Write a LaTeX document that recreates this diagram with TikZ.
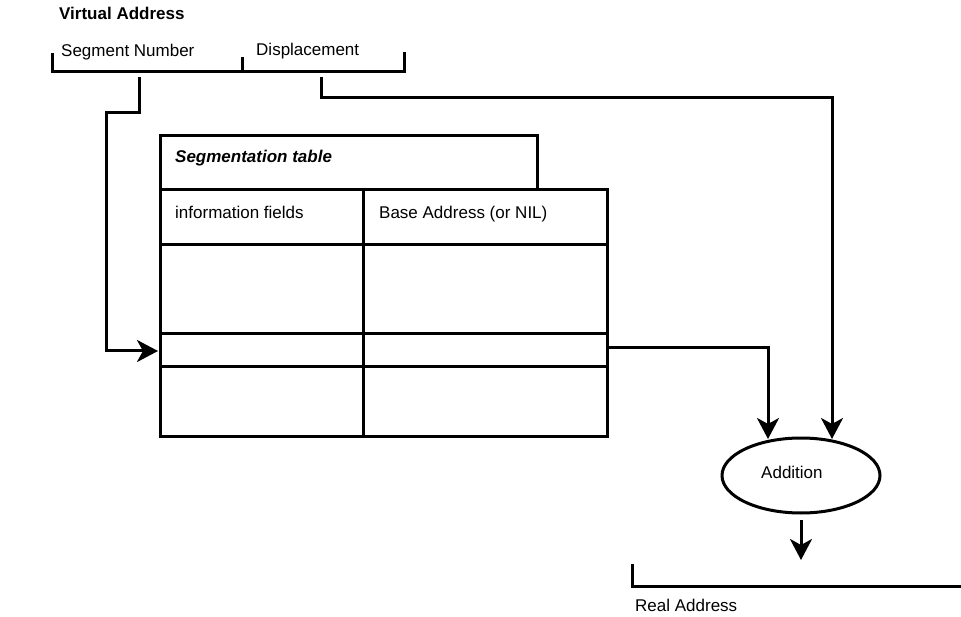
\documentclass[tikz,border=0pt]{standalone}
\usepackage{fontspec}
\setmainfont{Liberation Sans}
\usetikzlibrary{arrows.meta,shapes.geometric}
\begin{document}
\begin{tikzpicture}[x=1pt,y=-1pt,
  ln/.style={line width=3pt},
  arr/.style={ln,-{Stealth[length=21pt,width=22pt,inset=6pt]}},
  txt/.style={anchor=base west,inner sep=0pt,font=\fontsize{17}{20}\selectfont},
  box/.style={draw,ln,rectangle,anchor=north west,inner sep=0pt}]
\useasboundingbox (0,0) rectangle (961,617);
% virtual address
\node[txt,font=\fontsize{17}{20}\selectfont\bfseries] (va) at (59,20) {Virtual Address};
\node[txt] (segn) at (61,57) {Segment Number};
\node[txt] (disp) at (256,56) {Displacement};
\draw[ln] (52,53) |- (404,72) -- (404,52);
\draw[ln] (242,57) -- (242,72);
% segmentation table
\node[box,minimum width=377pt,minimum height=54pt] (title) at (159,134) {};
\node[box,minimum width=447pt,minimum height=247pt] (tab) at (159,188) {};
\draw[ln] (363,188) -- (363,435);
\draw[ln] (159,245) -- (606,245);
\draw[ln] (159,334) -- (606,334);
\draw[ln] (159,367) -- (606,367);
\node[txt,font=\fontsize{17}{20}\selectfont\bfseries\itshape] (stt) at (175,163) {Segmentation table};
\node[txt] (inf) at (175,219) {information fields};
\node[txt] (base) at (379,219) {Base Address (or NIL)};
% addition
\node[draw,ln,ellipse,minimum width=158pt,minimum height=75pt,inner sep=0pt] (add) at (801,475.5) {};
\node[txt] (addt) at (761,478) {Addition};
% real address
\node[txt] (ra) at (635,611) {Real Address};
\draw[ln] (632,564) |- (961,586);
% coordinates
\coordinate (sdrop) at (139,77);
\coordinate (sbend) at (106,113);
\coordinate (tin) at (158,351);
\coordinate (ddrop) at (321,77);
\coordinate (dbend) at (832,98);
\coordinate (din) at (832,439);
\coordinate (tout) at (606,348);
\coordinate (bin) at (768,439);
\coordinate (aout) at (801,520);
\coordinate (rin) at (801,560);
% connectors
\draw[arr] (sdrop) |- (sbend) |- (tin);
\draw[arr] (ddrop) |- (dbend) -- (din);
\draw[arr] (tout) -| (bin);
\draw[arr] (aout) -- (rin);
\end{tikzpicture}
\end{document}
